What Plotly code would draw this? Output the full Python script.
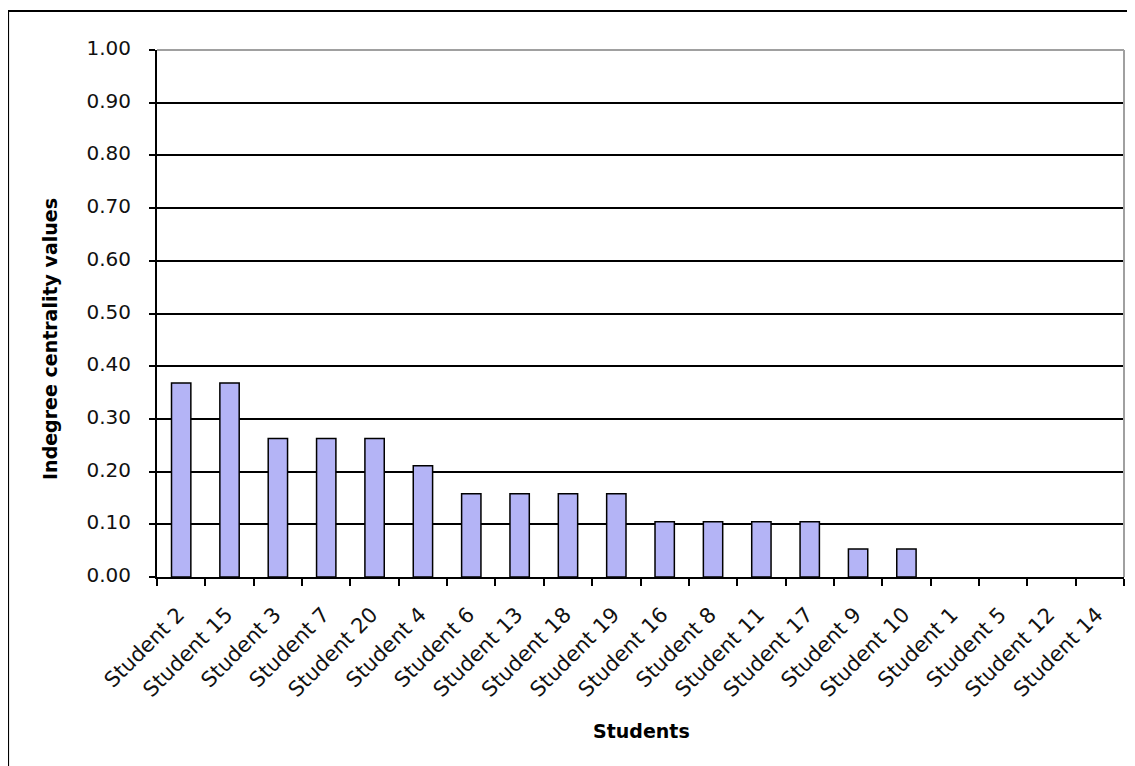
import plotly.graph_objects as go

students = ["Student 2", "Student 15", "Student 3", "Student 7", "Student 20", "Student 4",
            "Student 6", "Student 13", "Student 18", "Student 19", "Student 16", "Student 8",
            "Student 11", "Student 17", "Student 9", "Student 10", "Student 1", "Student 5",
            "Student 12", "Student 14"]
values = [0.368, 0.368, 0.263, 0.263, 0.263, 0.211,
          0.158, 0.158, 0.158, 0.158, 0.105, 0.105,
          0.105, 0.105, 0.053, 0.053, 0.0, 0.0,
          0.0, 0.0]
y_ticks = [0.0, 0.1, 0.2, 0.3, 0.4, 0.5, 0.6, 0.7, 0.8, 0.9, 1.0]

FONT = "DejaVu Sans, Verdana, sans-serif"

outline_widths = [1.5 if v > 0 else 0 for v in values]

fig = go.Figure(go.Bar(
    x=students, y=values,
    marker=dict(color="#B4B4F6", line=dict(color="black", width=outline_widths)),
))

# page body has an 8px margin; plot area target: x 157..1124, y 50..577 (window px)
fig.update_layout(
    width=1135, height=766,
    margin=dict(l=149, r=19, t=42, b=197),
    paper_bgcolor="white", plot_bgcolor="white",
    bargap=0.6,
    showlegend=False,
    font=dict(family=FONT, size=20, color="black"),
    xaxis=dict(
        type="category",
        tickangle=-45,
        ticks="outside", tickson="boundaries", ticklen=7, tickwidth=2, tickcolor="black",
        showline=True, linecolor="black", linewidth=2,
        showgrid=False,
        tickfont=dict(size=21, color="#111111"),
        ticklabelstandoff=15, ticklabelshift=-3,
    ),
    yaxis=dict(
        range=[0, 1],
        tickvals=y_ticks,
        tickformat=".2f",
        ticks="outside", ticklen=6, tickwidth=2, tickcolor="black",
        showline=True, linecolor="black", linewidth=2,
        showgrid=True, gridcolor="black", gridwidth=1.5,
        zeroline=False,
        tickfont=dict(size=20, color="#111111"),
        ticklabelstandoff=14, ticklabelshift=-2,
    ),
    annotations=[
        dict(text="<b>Students</b>", xref="paper", yref="paper", x=0.5015, y=-0.292,
             xanchor="center", yanchor="middle", showarrow=False, font=dict(size=19)),
        dict(text="<b>Indegree centrality values</b>", xref="paper", yref="paper",
             x=-0.1107, y=0.4516, textangle=-90,
             xanchor="center", yanchor="middle", showarrow=False, font=dict(size=19)),
    ],
    shapes=[
        dict(type="line", xref="paper", yref="paper", x0=0, x1=1, y0=1, y1=1,
             line=dict(color="#A0A0A0", width=2), layer="above"),
        dict(type="line", xref="paper", yref="paper", x0=1, x1=1, y0=0, y1=1,
             line=dict(color="#A0A0A0", width=2), layer="above"),
        dict(type="rect", xref="paper", yref="paper", x0=-0.154, x1=1.05, y0=-0.40, y1=1.074,
             line=dict(color="black", width=2), layer="above"),
    ],
)

fig.write_html("out.html")
